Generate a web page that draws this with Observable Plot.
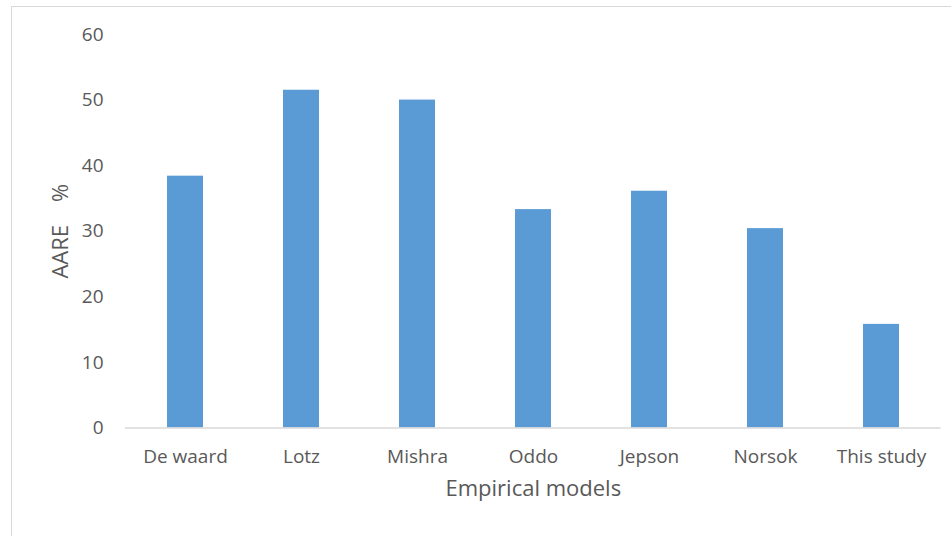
<!DOCTYPE html>
<html>
<head>
<meta charset="utf-8">
<script src="https://cdn.jsdelivr.net/npm/d3@7"></script>
<script src="https://cdn.jsdelivr.net/npm/@observablehq/plot@0.6"></script>
<style>
  html, body { margin: 0; padding: 0; background: #fff; }
  #wrap { position: relative; width: 951px; height: 536px; overflow: hidden; }
  #frame { position: absolute; left: 11px; top: 6px; width: 1000px; height: 600px; border: 1.5px solid #d9d9d9; box-sizing: border-box; }
  #chart { position: absolute; left: 0; top: 0; }
</style>
</head>
<body>
<div id="wrap"><div id="frame"></div><div id="chart"></div></div>
<script>
const models = ["De waard", "Lotz", "Mishra", "Oddo", "Jepson", "Norsok", "This study"];
const aare = [38.4, 51.5, 50.0, 33.3, 36.1, 30.4, 15.8];
const yTicks = [0, 10, 20, 30, 40, 50, 60];
const xTitle = "Empirical models";
const yTitle = "AARE\u00a0\u00a0\u00a0\u00a0%";

const data = models.map((m, i) => ({model: m, value: aare[i]}));

const font = "'Open Sans', sans-serif";
const chart = Plot.plot({
  width: 951,
  height: 536,
  marginTop: 34,
  marginBottom: 108.5,
  marginLeft: 125,
  marginRight: 10.4,
  style: {fontFamily: font, fontSize: "19px", color: "#595959", background: "transparent"},
  x: {domain: models, paddingInner: 0.69, paddingOuter: 0.345},
  y: {domain: [0, 60]},
  marks: [
    Plot.barY(data, {x: "model", y: "value", fill: "#5b9bd5"}),
    Plot.ruleY([0], {stroke: "#d9d9d9", strokeWidth: 1.5}),
    Plot.axisY({ticks: yTicks, tickSize: 0, tickPadding: 22, fontSize: 19, fill: "#595959", label: null}),
    Plot.axisX({tickSize: 0, tickPadding: 21, fontSize: 19, fill: "#595959", label: null}),
    Plot.text([yTitle], {frameAnchor: "left", textAnchor: "middle", dx: -65, rotate: -90, fontSize: 22, fill: "#595959", text: d => d}),
    Plot.text([xTitle], {frameAnchor: "bottom", dy: 68, fontSize: 22, fill: "#595959", text: d => d})
  ]
});
document.getElementById("chart").appendChild(chart);
</script>
</body>
</html>
